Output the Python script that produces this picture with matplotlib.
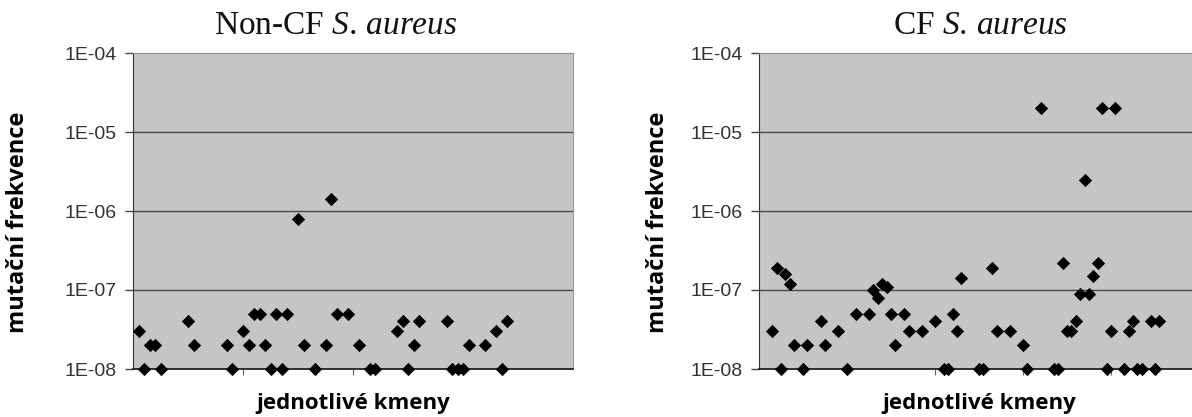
import matplotlib
matplotlib.use("Agg")
import matplotlib.pyplot as plt
from matplotlib.ticker import FixedLocator, NullLocator

# --- data (strain index, mutation frequency) ---
noncf_x = [1, 2, 3, 4, 5, 10, 11, 17, 18, 20, 21, 22, 23, 24, 25, 26, 27, 28,
           30, 31, 33, 35, 36, 37, 39, 41, 43, 44, 48, 49, 50, 51, 52,
           57, 58, 59, 60, 61, 64, 66, 67, 68]
noncf_y = [3e-8, 1e-8, 2e-8, 2e-8, 1e-8, 4e-8, 2e-8, 2e-8, 1e-8, 3e-8, 2e-8, 5e-8, 5e-8, 2e-8,
           1e-8, 5e-8, 1e-8, 5e-8, 8e-7, 2e-8, 1e-8, 2e-8, 1.4e-6, 5e-8, 5e-8, 2e-8, 1e-8, 1e-8,
           3e-8, 4e-8, 1e-8, 2e-8, 4e-8, 4e-8, 1e-8, 1e-8, 1e-8, 2e-8, 2e-8, 3e-8, 1e-8, 4e-8]

cf_x = [3, 4, 5, 6, 7, 8, 10, 11, 14, 15, 18, 20, 22, 25, 26, 27, 28, 29, 30, 31,
        33, 34, 37, 40, 42, 43, 44, 45, 46, 50, 51,
        53, 54, 57, 60, 61, 64, 67, 68, 69, 70, 71, 72, 73, 74, 75, 76, 77, 78,
        79, 80, 81, 83, 84, 85, 86, 87, 89, 90, 91]
cf_y = [3e-8, 1.9e-7, 1e-8, 1.6e-7, 1.2e-7, 2e-8, 1e-8, 2e-8, 4e-8, 2e-8, 3e-8, 1e-8,
        5e-8, 5e-8, 1e-7, 8e-8, 1.2e-7, 1.1e-7, 5e-8, 2e-8,
        5e-8, 3e-8, 3e-8, 4e-8, 1e-8, 1e-8, 5e-8, 3e-8, 1.4e-7, 1e-8, 1e-8,
        1.9e-7, 3e-8, 3e-8, 2e-8, 1e-8, 2e-5, 1e-8, 1e-8, 2.2e-7, 3e-8, 3e-8, 4e-8, 9e-8,
        2.5e-6, 9e-8, 1.5e-7, 2.2e-7, 2e-5,
        1e-8, 3e-8, 2e-5, 1e-8, 3e-8, 4e-8, 1e-8, 1e-8, 4e-8, 1e-8, 4e-8]

ytick_vals = [1e-8, 1e-7, 1e-6, 1e-5, 1e-4]
ytick_labels = ["1E-08", "1E-07", "1E-06", "1E-05", "1E-04"]

plt.rcParams["mathtext.fontset"] = "custom"
plt.rcParams["mathtext.rm"] = "Liberation Serif"
plt.rcParams["mathtext.it"] = "Liberation Serif:italic"

W, H = 1192, 417
fig = plt.figure(figsize=(W / 100, H / 100), dpi=100)
fig.patch.set_facecolor("white")


def panel(left_px, xmax, xticks, xs, ys, title, title_cx, ylab_cx):
    ax = fig.add_axes([left_px / W, (H - 369) / H, 440 / W, 316 / H])
    ax.set_facecolor("#c5c5c5")
    ax.set_yscale("log")
    ax.set_ylim(1e-8, 1e-4)
    ax.set_xlim(0, xmax)
    for v in ytick_vals[1:-1]:
        ax.axhline(v, color="#4a4a4a", lw=1.0, zorder=1)
    ax.scatter(xs, ys, marker="D", s=46, color="black", zorder=3, clip_on=False, linewidths=0)
    ax.yaxis.set_major_locator(FixedLocator(ytick_vals))
    ax.yaxis.set_minor_locator(NullLocator())
    ax.set_yticklabels(ytick_labels, fontsize=14, color="#333333", family="Liberation Sans")
    ax.tick_params(axis="y", direction="out", length=6, width=1, color="#444444", pad=6)
    ax.xaxis.set_major_locator(FixedLocator(xticks))
    ax.set_xticklabels([])
    ax.tick_params(axis="x", direction="out", length=4, width=0.8, color="#666666")
    ax.spines["left"].set_color("#333333")
    ax.spines["bottom"].set_color("#222222")
    ax.spines["bottom"].set_linewidth(1.3)
    ax.spines["top"].set_color("#8a8a8a")
    ax.spines["right"].set_color("#999999")
    fig.text(title_cx / W, 1 - 34 / H, title, fontsize=24, ha="center", va="baseline",
             family="Liberation Serif", color="#111111")
    fig.text(ylab_cx / W, 1 - 222 / H, "mutační frekvence", rotation=90, fontsize=17,
             fontweight="bold", family="Open Sans", ha="center", va="center", color="black")
    fig.text((left_px + 220) / W, 1 - 404 / H, "jednotlivé kmeny", fontsize=16,
             fontweight="bold", family="Open Sans", ha="center", va="center", color="black")
    return ax


panel(133, 80, [20, 40, 60], noncf_x, noncf_y, r"Non-CF $\mathit{S.\,aureus}$", 336, 18)
panel(759, 100, [20, 40, 60, 80], cf_x, cf_y, r"CF $\mathit{S.\,aureus}$", 980, 658)

fig.savefig("out.png", dpi=100)
